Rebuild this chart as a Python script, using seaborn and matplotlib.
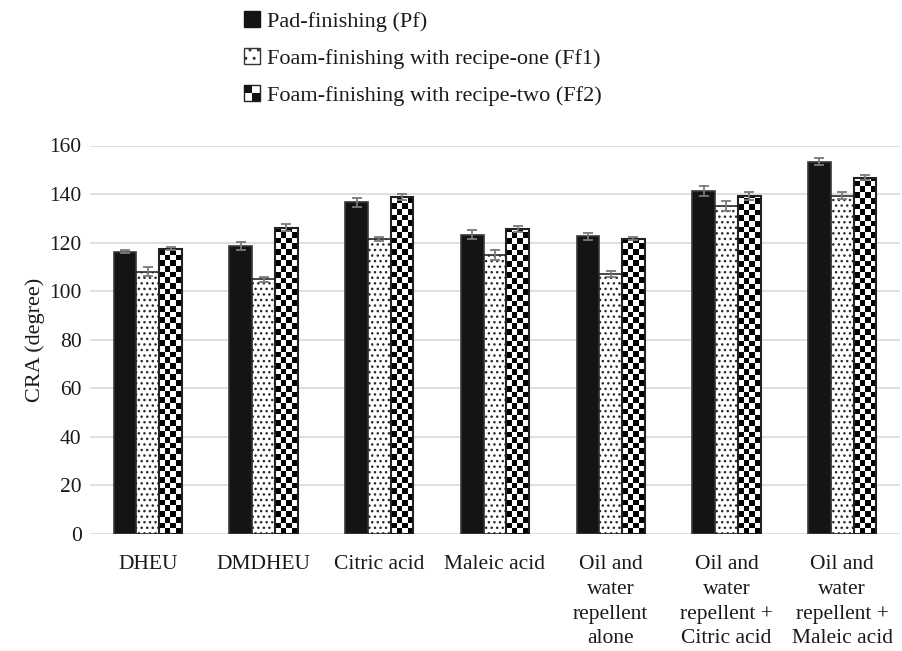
import numpy as np
import pandas as pd
import matplotlib
matplotlib.use("Agg")
import matplotlib.pyplot as plt
from matplotlib.patches import Rectangle, Patch
from matplotlib.legend_handler import HandlerBase
import seaborn as sns

# ---- data -------------------------------------------------------------
categories = [
    "DHEU",
    "DMDHEU",
    "Citric acid",
    "Maleic acid",
    "Oil and\nwater\nrepellent\nalone",
    "Oil and\nwater\nrepellent +\nCitric acid",
    "Oil and\nwater\nrepellent +\nMaleic acid",
]
series = [
    "Pad-finishing (Pf)",
    "Foam-finishing with recipe-one (Ff1)",
    "Foam-finishing with recipe-two (Ff2)",
]
pf_values = [116.3, 118.6, 136.6, 123.3, 122.6, 141.2, 153.4]
ff1_values = [108.1, 104.9, 121.5, 114.9, 107.0, 135.1, 139.4]
ff2_values = [117.5, 126.2, 138.9, 125.6, 121.6, 139.2, 146.8]
pf_errors = [0.5, 1.6, 1.9, 1.9, 1.4, 2.0, 1.6]
ff1_errors = [1.8, 1.0, 0.8, 1.9, 1.2, 1.9, 1.4]
ff2_errors = [0.5, 1.5, 1.3, 1.1, 0.7, 1.8, 1.2]
y_ticks = [0, 20, 40, 60, 80, 100, 120, 140, 160]
y_label = "CRA (degree)"

values_by_series = [pf_values, ff1_values, ff2_values]
errors_by_series = [pf_errors, ff1_errors, ff2_errors]

df = pd.DataFrame({
    "treatment": categories * len(series),
    "finish": np.repeat(series, len(categories)),
    "cra": pf_values + ff1_values + ff2_values,
})

# ---- style ------------------------------------------------------------
sns.set_theme(style="white")
plt.rcParams["font.family"] = ["Liberation Serif", "DejaVu Serif"]
plt.rcParams["hatch.linewidth"] = 1.0

BLACK = "#141414"
EDGE = "#3a3a3a"

fig = plt.figure(figsize=(9.02, 6.51), dpi=100)
ax = fig.add_axes([90 / 902, 1 - 534 / 651, 810 / 902, (534 - 145.5) / 651])

sns.barplot(
    data=df, x="treatment", y="cra", hue="finish",
    order=categories, hue_order=series,
    palette=[BLACK, "white", "white"], saturation=1,
    width=0.59, errorbar=None, legend=False,
    edgecolor=EDGE, linewidth=1.2, ax=ax, zorder=2,
)

ax.set_ylim(0, 160)
ax.set_xlim(-0.5, len(categories) - 0.5)

pf_bars, ff1_bars, ff2_bars = ax.containers

# dotted fill for recipe-one
for bar in ff1_bars:
    bar.set_hatch("...")
    bar.set_edgecolor("#2a2a2a")

# checkerboard fill for recipe-two, clipped to each bar
fig.canvas.draw()
for bar in ff2_bars:
    x0, w, h = bar.get_x(), bar.get_width(), bar.get_height()
    p0 = ax.transData.transform((x0, 0))
    p1 = ax.transData.transform((x0 + w, h))
    w_px, h_px = p1[0] - p0[0], p1[1] - p0[1]
    ncols = 4
    sq_px = w_px / ncols
    nrows = int(np.ceil(h_px / sq_px)) + 1
    sq_data = h * sq_px / h_px
    board = (np.add.outer(np.arange(nrows), np.arange(ncols)) % 2).astype(float)
    im = ax.imshow(
        board, cmap="gray_r", vmin=0, vmax=1, origin="lower",
        extent=(x0, x0 + w, 0, nrows * sq_data),
        aspect="auto", interpolation="nearest", zorder=2.1,
    )
    im.set_clip_path(bar)
    bar.set_facecolor("none")
    bar.set_edgecolor("#222222")
    bar.set_linewidth(1.5)
    bar.set_zorder(2.2)

# error bars placed on the bar centres
for bars, vals, errs in zip(ax.containers, values_by_series, errors_by_series):
    xs = [b.get_x() + b.get_width() / 2 for b in bars]
    ax.errorbar(xs, vals, yerr=errs, fmt="none", ecolor="#7a7a7a",
                elinewidth=1.3, capsize=3.8, capthick=1.3, zorder=5)

ax.set_ylim(0, 160)
ax.set_xlim(-0.5, len(categories) - 0.5)
ax.set_yticks(y_ticks)
ax.set_xlabel("")
ax.set_ylabel(y_label, fontsize=16, color="#1a1a1a", labelpad=3)
ax.yaxis.grid(True, color="#d9d9d9", linewidth=1.2)
ax.set_axisbelow(True)
for s in ax.spines.values():
    s.set_visible(False)
ax.tick_params(axis="both", length=0, labelsize=15.5, colors="#1a1a1a")
ax.tick_params(axis="y", pad=6)
ax.tick_params(axis="x", pad=15)
for lab in ax.get_xticklabels():
    lab.set_linespacing(1.42)
    lab.set_horizontalalignment("center")


# ---- legend -----------------------------------------------------------
class CheckerHandler(HandlerBase):
    def create_artists(self, legend, orig_handle, xdescent, ydescent,
                       width, height, fontsize, trans):
        s = min(width, height)
        x0, y0 = -xdescent, -ydescent + (height - s) / 2
        h = s / 2
        arts = [
            Rectangle((x0, y0), s, s, facecolor="white", edgecolor="#222222", lw=1.0),
            Rectangle((x0, y0 + h), h, h, facecolor=BLACK, edgecolor="none"),
            Rectangle((x0 + h, y0), h, h, facecolor=BLACK, edgecolor="none"),
        ]
        for a in arts:
            a.set_transform(trans)
        return arts


h_pf = Patch(facecolor=BLACK, edgecolor=BLACK)
h_ff1 = Patch(facecolor="white", edgecolor="#333333", hatch="..")
h_ff2 = Patch(facecolor="white", edgecolor="#222222")

fig.legend(
    [h_pf, h_ff1, h_ff2], series,
    loc="upper left", bbox_to_anchor=(244 / 902, 1 - 11 / 651),
    frameon=False, fontsize=16, handlelength=0.7, handleheight=0.7,
    handletextpad=0.35, labelspacing=0.75, borderaxespad=0, borderpad=0,
    handler_map={h_ff2: CheckerHandler()},
    labelcolor="#1a1a1a",
)

fig.savefig("out.png", dpi=100)
